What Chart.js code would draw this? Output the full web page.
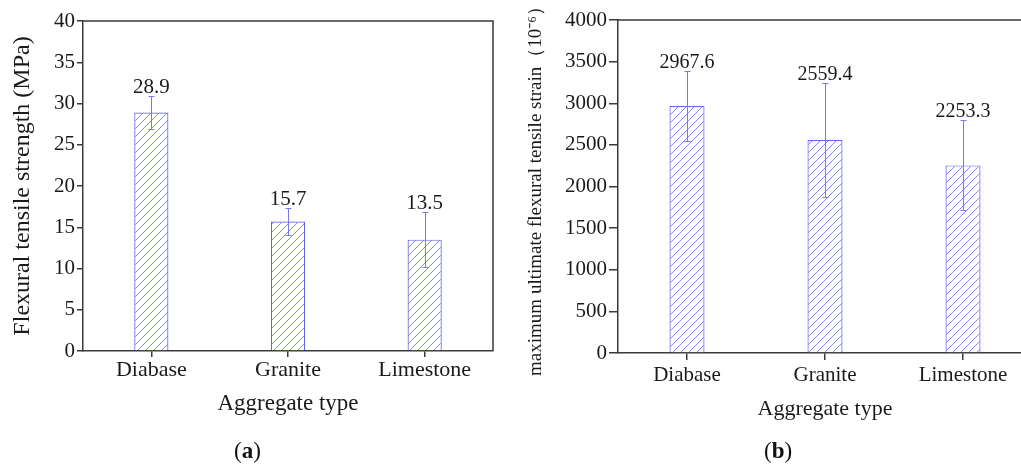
<!DOCTYPE html>
<html>
<head>
<meta charset="utf-8">
<script src="https://cdn.jsdelivr.net/npm/chart.js@4.4.1/dist/chart.umd.min.js"></script>
<style>
  html, body { margin: 0; padding: 0; background: #fff; width: 1021px; height: 466px; overflow: hidden; }
  .wrap { position: absolute; top: 0; }
  #wrapA { left: 0; width: 510px; height: 466px; }
  #wrapB { left: 497px; width: 545px; height: 466px; }
  .tag { position: absolute; top: 438px; font-family: 'Liberation Serif', serif; font-size: 23px; color: #111; }
</style>
</head>
<body>
<div class="wrap" id="wrapA"><canvas id="chartA" width="510" height="466"></canvas></div>
<div class="wrap" id="wrapB"><canvas id="chartB" width="545" height="466"></canvas></div>
<div class="tag" style="left:234px">(<b>a</b>)</div>
<div class="tag" style="left:764px">(<b>b</b>)</div>

<script>
// data
const categories = ['Diabase', 'Granite', 'Limestone'];
const strengthValues = [28.9, 15.7, 13.5];
const strengthErrors = [2.0, 1.6, 3.3];
const strainValues = [2967.6, 2559.4, 2253.3];
const strainErrors = [423, 680, 540];

const serif = "'Liberation Serif', 'Times New Roman', serif";
const axisColor = '#3a3a3a';
const barBlue = '#6464f4';
const hatchBlue = '#8282fa';
const errBlue = '#7878f0';

// crisp 1px "/" hatch tile
function makeHatch(canvasId) {
  const n = 8;
  const tile = document.createElement('canvas');
  tile.width = n; tile.height = n;
  const g = tile.getContext('2d');
  g.fillStyle = '#ffffff';
  g.fillRect(0, 0, n, n);
  g.fillStyle = hatchBlue;
  for (let i = 0; i < n; i++) g.fillRect(i, n - 1 - i, 1, 1);
  return document.getElementById(canvasId).getContext('2d').createPattern(tile, 'repeat');
}

// error bars + value labels, positioned through the y scale
const errorBarPlugin = {
  id: 'errorBars',
  afterDatasetsDraw(chart, args, opts) {
    const ctx = chart.ctx;
    const y = chart.scales.y;
    const meta = chart.getDatasetMeta(0);
    const vals = chart.data.datasets[0].data;
    ctx.save();
    meta.data.forEach(function(bar, i) {
      const x = Math.round(bar.x) + 0.5;
      const hi = Math.round(y.getPixelForValue(vals[i] + opts.errors[i])) + 0.5;
      const lo = Math.round(y.getPixelForValue(vals[i] - opts.errors[i])) + 0.5;
      ctx.strokeStyle = errBlue;
      ctx.lineWidth = 1;
      ctx.beginPath();
      ctx.moveTo(x, hi); ctx.lineTo(x, lo);
      ctx.moveTo(x - opts.cap, hi); ctx.lineTo(x + opts.cap, hi);
      ctx.moveTo(x - opts.cap, lo); ctx.lineTo(x + opts.cap, lo);
      ctx.stroke();
      ctx.fillStyle = '#1a1a1a';
      ctx.font = opts.font;
      ctx.textAlign = 'center';
      ctx.textBaseline = 'alphabetic';
      ctx.fillText(vals[i].toFixed(1), bar.x, hi - opts.gap);
    });
    ctx.restore();
  }
};

// top and right edges of the plot box
const framePlugin = {
  id: 'frame',
  afterDraw(chart) {
    const ctx = chart.ctx;
    const a = chart.chartArea;
    ctx.save();
    ctx.strokeStyle = axisColor;
    ctx.lineWidth = 1.5;
    ctx.beginPath();
    ctx.moveTo(a.left, a.top);
    ctx.lineTo(a.right, a.top);
    ctx.lineTo(a.right, a.bottom);
    ctx.stroke();
    ctx.restore();
  }
};

function buildChart(id, cfg) {
  return new Chart(document.getElementById(id), {
    type: 'bar',
    data: {
      labels: categories,
      datasets: [{
        data: cfg.values,
        backgroundColor: makeHatch(id),
        borderColor: barBlue,
        borderWidth: 1.2,
        barPercentage: cfg.barPct,
        categoryPercentage: 1
      }]
    },
    options: {
      responsive: false,
      animation: false,
      layout: { padding: cfg.padding },
      plugins: {
        legend: { display: false },
        tooltip: { enabled: false },
        errorBars: { errors: cfg.errors, cap: 3, gap: 4, font: cfg.valueFont }
      },
      scales: {
        x: {
          afterFit: function(s) { s.height = cfg.xHeight; },
          grid: { display: true, drawOnChartArea: false, offset: false, tickLength: cfg.xTickLen, color: axisColor, lineWidth: 1.5 },
          border: { color: axisColor, width: 1.5 },
          ticks: { color: '#1a1a1a', padding: cfg.xTickPad, font: { family: serif, size: cfg.catSize } },
          title: { display: true, text: 'Aggregate type', color: '#1a1a1a', padding: 0, font: { family: serif, size: cfg.xTitleSize } }
        },
        y: {
          min: 0,
          max: cfg.max,
          afterFit: function(s) { s.width = cfg.yWidth; },
          grid: { display: true, drawOnChartArea: false, tickLength: cfg.yTickLen, color: axisColor, lineWidth: 1.5 },
          border: { color: axisColor, width: 1.5 },
          ticks: {
            stepSize: cfg.step,
            color: '#1a1a1a',
            padding: 2,
            font: { family: serif, size: cfg.tickSize },
            callback: function(v) { return String(v); }
          },
          title: { display: true, text: cfg.yTitle, color: '#1a1a1a', padding: 0, font: { family: serif, size: cfg.yTitleSize } }
        }
      }
    },
    plugins: [errorBarPlugin, framePlugin]
  });
}

buildChart('chartA', {
  values: strengthValues,
  errors: strengthErrors,
  barPct: 0.25,
  max: 40,
  step: 5,
  yTitle: 'Flexural tensile strength (MPa)',
  padding: { left: 8, top: 21, right: 17, bottom: 48 },
  yWidth: 75,
  xHeight: 67,
  xTickLen: 6,
  xTickPad: 0,
  yTickLen: 6,
  catSize: 22,
  tickSize: 21,
  xTitleSize: 23,
  yTitleSize: 24,
  valueFont: '21px ' + serif
});

buildChart('chartB', {
  values: strainValues,
  errors: strainErrors,
  barPct: 0.254,
  max: 4000,
  step: 500,
  yTitle: 'maximum ultimate flexural tensile strain（10⁻⁶）',
  padding: { left: 28, top: 20, right: 10, bottom: 44 },
  yWidth: 93,
  xHeight: 69,
  xTickLen: 7,
  xTickPad: 3,
  yTickLen: 9,
  catSize: 21,
  tickSize: 21,
  xTitleSize: 22,
  yTitleSize: 19,
  valueFont: '20px ' + serif
});
</script>
</body>
</html>
